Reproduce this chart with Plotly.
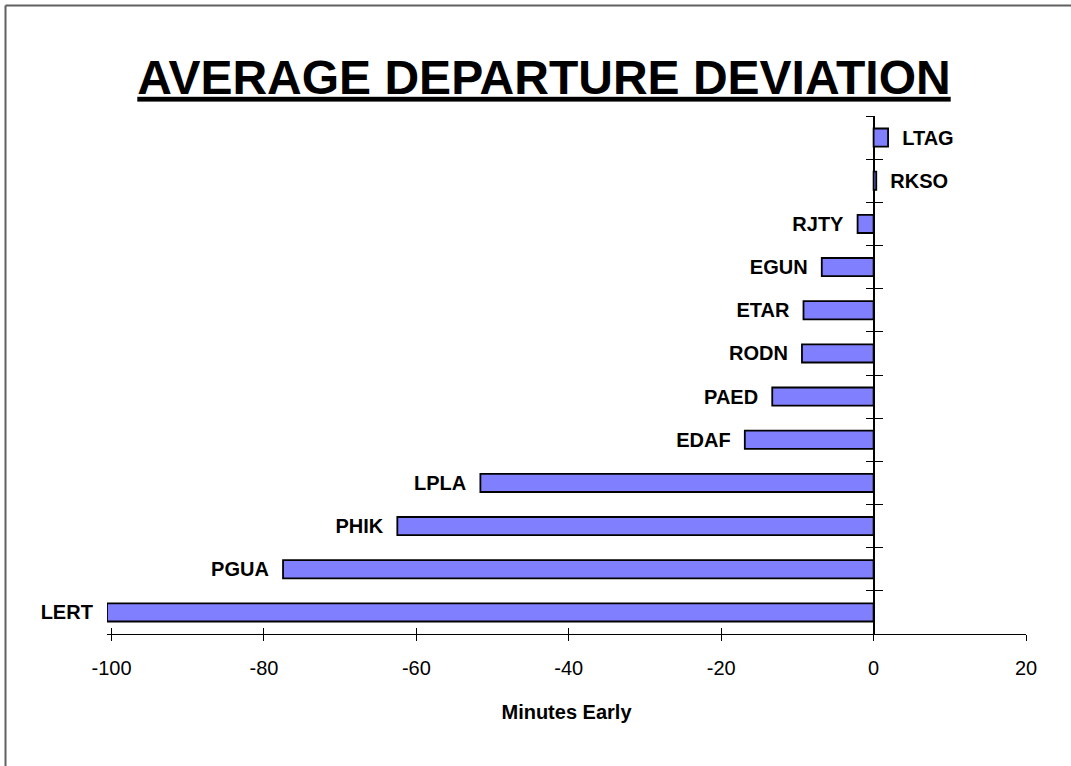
import plotly.graph_objects as go

# Data (top to bottom in the chart)
stations = ["LTAG", "RKSO", "RJTY", "EGUN", "ETAR", "RODN", "PAED", "EDAF", "LPLA", "PHIK", "PGUA", "LERT"]
minutes = [1.9, 0.35, -2.1, -6.8, -9.2, -9.4, -13.3, -16.9, -51.6, -62.5, -77.5, -100.6]
x_ticks = [-100, -80, -60, -40, -20, 0, 20]

W, H = 1071, 766
ML, MR, MT, MB = 107, 45, 116, 132
PW, PH = W - ML - MR, H - MT - MB
x_range = [-100.6, 20]
FONT = "Liberation Sans, Arial, sans-serif"

order = stations[::-1]
pad = "\u00a0\u00a0"
labels = [(s + pad) if v < 0 else (pad + s) for s, v in zip(stations, minutes)]

fig = go.Figure()
fig.add_trace(go.Bar(
    x=minutes, y=stations, orientation="h",
    marker=dict(color="#8080FF", line=dict(color="black", width=1.8)),
    width=0.42,
    text=labels, textposition="outside", constraintext="none", cliponaxis=False,
    textfont=dict(family=FONT, size=20, color="black", weight="bold"),
    showlegend=False, hoverinfo="x+y",
))

ypos = (0 - x_range[0]) / (x_range[1] - x_range[0])

common_y = dict(type="category", categoryorder="array", categoryarray=order,
                range=[-0.5, len(order) - 0.5], tickson="boundaries",
                showticklabels=False, showgrid=False, zeroline=False, showline=False,
                tickcolor="black", tickwidth=1, ticklen=8,
                anchor="free", position=ypos)

# chart frame: only top and left edges are visible in the reference
fx0 = (5.5 - ML) / PW
fx1 = (W + 20 - ML) / PW
fy_top = (MT + PH - 5.5) / PH
fy_bot = (MT + PH - (H + 20)) / PH
frame = [
    dict(type="line", xref="paper", yref="paper", x0=fx0, x1=fx1, y0=fy_top, y1=fy_top,
         line=dict(color="#606060", width=2), layer="below"),
    dict(type="line", xref="paper", yref="paper", x0=fx0, x1=fx0, y0=fy_bot, y1=fy_top,
         line=dict(color="#606060", width=2), layer="below"),
]

fig.update_layout(
    width=W, height=H,
    margin=dict(l=ML, r=MR, t=MT, b=MB),
    paper_bgcolor="white", plot_bgcolor="white",
    title=dict(text="AVERAGE DEPARTURE DEVIATION",
               font=dict(family=FONT, size=48, color="black", weight="bold", lineposition="under"),
               x=544 / W, xref="container", xanchor="center",
               y=1 - 77 / H, yref="container", yanchor="middle"),
    xaxis=dict(range=x_range, tickvals=x_ticks, ticktext=[str(t) for t in x_ticks],
               showline=True, linecolor="black", linewidth=1,
               ticks="outside", ticklen=6, tickcolor="black", tickwidth=1,
               ticklabelstandoff=10,
               tickfont=dict(family=FONT, size=20, color="black"),
               zeroline=True, zerolinecolor="black", zerolinewidth=1.5,
               showgrid=False,
               title=dict(text="Minutes Early", standoff=26,
                          font=dict(family=FONT, size=20, color="black", weight="bold"))),
    xaxis2=dict(overlaying="x", matches="x", range=x_range, tickvals=x_ticks,
                ticks="inside", ticklen=6, tickcolor="black", tickwidth=1,
                showticklabels=False, showgrid=False, zeroline=False, showline=False,
                anchor="y", side="bottom"),
    yaxis=dict(ticks="outside", **common_y),
    yaxis2=dict(ticks="inside", overlaying="y", matches="y", **common_y),
    shapes=frame,
)

# invisible trace so the overlay axes render
fig.add_trace(go.Scatter(x=[x_range[0]], y=[order[0]], xaxis="x2", yaxis="y2",
                         mode="markers", marker=dict(opacity=0), showlegend=False, hoverinfo="skip"))

fig.write_html("out.html", config={"displayModeBar": False},
               post_script="document.body.style.margin='0';document.body.style.padding='0';"
                           "document.documentElement.style.overflow='hidden';"
                           "document.body.style.overflow='hidden';")
